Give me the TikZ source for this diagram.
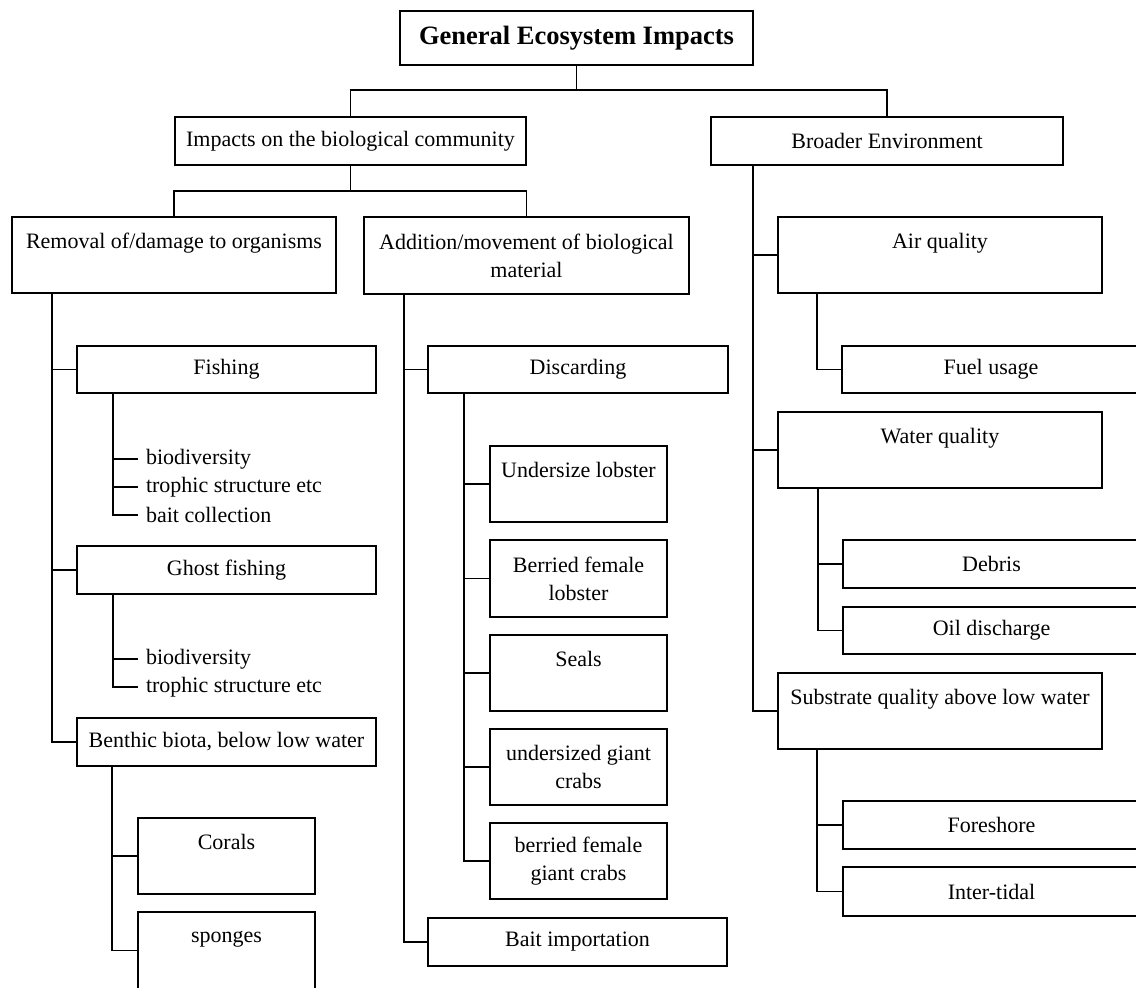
\documentclass[tikz,border=0pt]{standalone}
\usepackage{fontspec}
\setmainfont{Liberation Serif}
\begin{document}
\begin{tikzpicture}[x=1pt,y=-1pt,
  box/.style={draw, line width=1.9pt, rectangle, inner sep=0pt, outer sep=0pt,
              align=center, anchor=north west,
              font=\fontsize{22}{28}\selectfont},
  leaf/.style={anchor=west, inner xsep=8pt, inner ysep=0pt, outer sep=0pt,
               font=\fontsize{22}{28}\selectfont},
  conn/.style={line width=1.9pt},
]
\useasboundingbox (0,0) rectangle (1136,988);
\newcommand\mkbox[6]{\node[box, minimum width={#4pt-#2pt}, minimum height={#5pt-#3pt}] (#1) at (#2,#3) {#6};}

% boxes
\node[box, minimum width=353pt, minimum height=54pt,
      font=\fontsize{26.5}{30}\selectfont\bfseries] (title) at (400,11) {General Ecosystem Impacts};
\mkbox{imp}{175}{117}{526}{165}{Impacts on the biological community}
\mkbox{broad}{711}{117}{1063}{165}{Broader Environment}
\mkbox{rem}{12}{217}{336}{293}{Removal of/damage to organisms\\~}
\mkbox{add}{364}{217}{689}{294}{Addition/movement of biological\\material}
\mkbox{fish}{77}{346}{376}{393}{Fishing}
\mkbox{ghost}{77}{546}{376}{594}{Ghost fishing}
\mkbox{benth}{77}{718}{376}{766}{Benthic biota, below low water}
\mkbox{corals}{138}{818}{315}{894}{Corals\\~}
\mkbox{sponges}{138}{912}{315}{989}{sponges\\~}
\mkbox{disc}{428}{346}{728}{393}{Discarding}
\mkbox{undl}{490}{446}{667}{522}{Undersize lobster\\~}
\mkbox{bfl}{490}{540}{667}{617}{Berried female\\lobster}
\mkbox{seals}{490}{635}{667}{711}{Seals\\~}
\mkbox{ugc}{490}{729}{667}{805}{undersized giant\\crabs}
\mkbox{bfgc}{490}{823}{667}{899}{berried female\\giant crabs}
\mkbox{bait}{428}{918}{727}{966}{Bait importation}
\mkbox{air}{778}{217}{1102}{293}{Air quality\\~}
\mkbox{fuel}{842}{346}{1140}{393}{Fuel usage}
\mkbox{water}{778}{412}{1102}{488}{Water quality\\~}
\mkbox{debris}{843}{540}{1140}{588}{Debris}
\mkbox{oil}{843}{607}{1140}{654}{Oil discharge}
\mkbox{subs}{778}{673}{1102}{749}{Substrate quality above low water\\~}
\mkbox{fore}{843}{801}{1140}{849}{Foreshore}
\mkbox{inter}{843}{867}{1140}{916}{Inter-tidal}

% leaf labels
\node[leaf] (f1) at (138,459) {biodiversity};
\node[leaf] (f2) at (138,487) {trophic structure etc};
\node[leaf] (f3) at (138,515) {bait collection};
\node[leaf] (g1) at (138,659) {biodiversity};
\node[leaf] (g2) at (138,687) {trophic structure etc};

% junction coordinates
\coordinate (hy1) at (0,90);
\coordinate (hy2) at (0,191);
\coordinate (tj) at (title.south |- hy1);
\coordinate (ij) at (imp.south |- hy2);
\coordinate (remS) at (52,293);
\coordinate (fishS) at (113,393);
\coordinate (ghostS) at (113,594);
\coordinate (benthS) at (112,766);
\coordinate (addS) at (404,294);
\coordinate (discS) at (464,393);
\coordinate (broadS) at (753,165);
\coordinate (airS) at (817,293);
\coordinate (waterS) at (818,488);
\coordinate (subsS) at (817,749);

% connectors
\draw[conn] (title.south) -- (tj);
\draw[conn] (imp.north) -- (imp.north |- tj) -- (broad.north |- tj) -- (broad.north);
\draw[conn] (imp.south) -- (ij);
\draw[conn] (rem.north) -- (rem.north |- ij) -- (add.north |- ij) -- (add.north);

\draw[conn] (remS) |- (fish.west);
\draw[conn] (remS) |- (ghost.west);
\draw[conn] (remS) |- (benth.west);
\draw[conn] (fishS) |- (f1.west);
\draw[conn] (fishS) |- (f2.west);
\draw[conn] (fishS) |- (f3.west);
\draw[conn] (ghostS) |- (g1.west);
\draw[conn] (ghostS) |- (g2.west);
\draw[conn] (benthS) |- (corals.west);
\draw[conn] (benthS) |- (sponges.west);

\draw[conn] (addS) |- (disc.west);
\draw[conn] (addS) |- (bait.west);
\draw[conn] (discS) |- (undl.west);
\draw[conn] (discS) |- (bfl.west);
\draw[conn] (discS) |- (seals.west);
\draw[conn] (discS) |- (ugc.west);
\draw[conn] (discS) |- (bfgc.west);

\draw[conn] (broadS) |- (air.west);
\draw[conn] (broadS) |- (water.west);
\draw[conn] (broadS) |- (subs.west);
\draw[conn] (airS) |- (fuel.west);
\draw[conn] (waterS) |- (debris.west);
\draw[conn] (waterS) |- (oil.west);
\draw[conn] (subsS) |- (fore.west);
\draw[conn] (subsS) |- (inter.west);
\end{tikzpicture}
\end{document}
